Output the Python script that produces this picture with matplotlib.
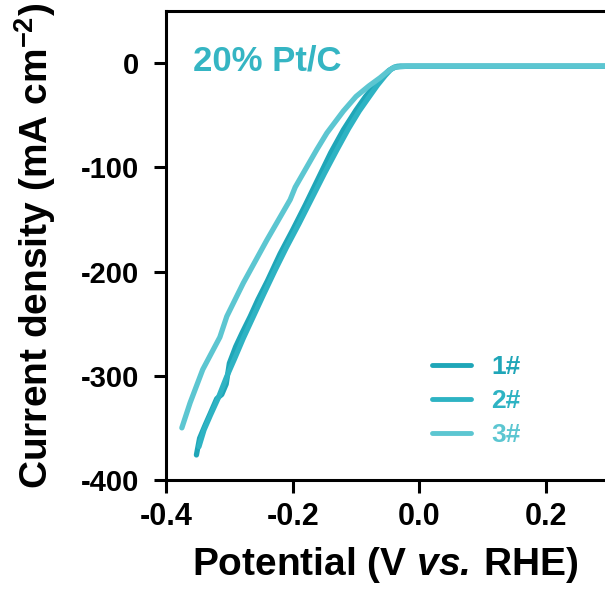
import matplotlib
matplotlib.use("Agg")
import matplotlib.pyplot as plt

plt.rcParams['font.family'] = ['Liberation Sans', 'DejaVu Sans']
plt.rcParams['font.weight'] = 'bold'
plt.rcParams['mathtext.fontset'] = 'custom'
plt.rcParams['mathtext.rm'] = 'Liberation Sans'
plt.rcParams['mathtext.bf'] = 'Liberation Sans:bold'
plt.rcParams['mathtext.bfit'] = 'Liberation Sans:bold:italic'
plt.rcParams['mathtext.it'] = 'Liberation Sans:italic'

# LSV curves (V vs. RHE, mA cm-2)
pot_1 = [-0.352, -0.347, -0.338, -0.330, -0.320, -0.312, -0.305, -0.300, -0.290, -0.280,
         -0.267, -0.255, -0.240, -0.220, -0.200, -0.180, -0.160, -0.140, -0.120, -0.100,
         -0.085, -0.070, -0.058, -0.048, -0.040, -0.030, 0.0, 0.1, 0.2, 0.293]
cur_1 = [-376, -360, -347, -336, -322, -318, -308, -288, -272, -259,
         -243, -227, -209, -183, -160, -136, -111, -86, -64, -45,
         -32, -21, -13, -7, -4, -3, -3, -3, -3, -3]

pot_2 = [-0.348, -0.340, -0.330, -0.318, -0.305, -0.292, -0.278, -0.262, -0.246, -0.228,
         -0.210, -0.190, -0.170, -0.150, -0.130, -0.112, -0.095, -0.080, -0.066, -0.054,
         -0.045, -0.035, 0.0, 0.1, 0.2, 0.293]
cur_2 = [-368, -352, -338, -322, -302, -284, -264, -243, -222, -199,
         -177, -154, -130, -106, -83, -63, -46, -33, -21, -12,
         -6, -3, -3, -3, -3, -3]

pot_3 = [-0.375, -0.362, -0.342, -0.315, -0.304, -0.278, -0.241, -0.204, -0.196, -0.162,
         -0.146, -0.120, -0.100, -0.080, -0.062, -0.050, -0.040, -0.020, 0.0, 0.1, 0.2, 0.293]
cur_3 = [-350, -326, -294, -263, -243, -211, -170, -131, -119, -83,
         -67, -46, -32, -22, -14, -8, -4, -3, -3, -3, -3, -3]

labels = ['1#', '2#', '3#']
colors = ['#1FA6B8', '#2EB3C3', '#5CC6D1']
xticks = [-0.4, -0.2, 0.0, 0.2]
yticks = [0, -100, -200, -300, -400]

fig = plt.figure(figsize=(6.05, 5.99), dpi=100)
ax = fig.add_axes([0.2744, 0.1987, 0.7256, 0.7829])

for x, y, c, lab in zip([pot_1, pot_2, pot_3], [cur_1, cur_2, cur_3], colors, labels):
    ax.plot(x, y, color=c, lw=3.8, label=lab, solid_capstyle='round', solid_joinstyle='round')

ax.set_xlim(-0.4, 0.293)
ax.set_ylim(-400, 50)
ax.set_xticks(xticks)
ax.set_xticklabels(['%.1f' % v for v in xticks])
ax.set_yticks(yticks)
ax.set_yticklabels([str(v) for v in yticks])

ax.spines['right'].set_visible(False)
for s in ['left', 'bottom', 'top']:
    ax.spines[s].set_linewidth(2.2)
ax.tick_params(direction='out', length=9, width=2.2)
ax.tick_params(axis='x', labelsize=22, pad=7)
ax.tick_params(axis='y', labelsize=21, pad=10)

ax.set_xlabel('Potential (V $\\mathbfit{vs.}\\,$RHE)', fontsize=28, fontweight='bold', labelpad=9)
ax.set_ylabel('Current density (mA cm$^{\\mathbf{-2}}$)', fontsize=28, fontweight='bold', labelpad=17)

ax.text(0.0615, 0.874, '20% Pt/C', transform=ax.transAxes, fontsize=25,
        fontweight='bold', color='#35B5C3', va='baseline')

leg = ax.legend(loc='upper left', bbox_to_anchor=(0.575, 0.295), frameon=False,
                fontsize=19, labelcolor='linecolor', handlelength=1.5,
                handletextpad=0.75, labelspacing=0.38, borderpad=0)
for h in leg.get_lines():
    h.set_linewidth(3.5)

fig.savefig('out.png', dpi=100)
